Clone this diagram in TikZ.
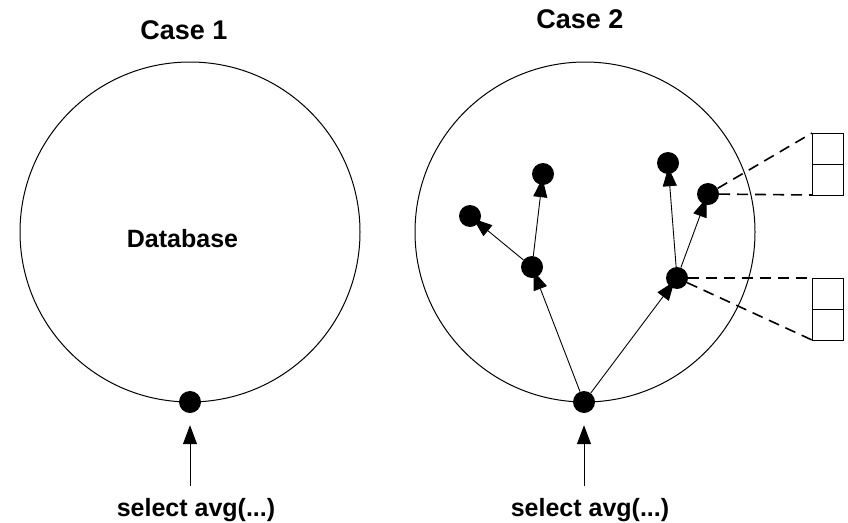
\documentclass[tikz,border=0pt]{standalone}
\usepackage{fontspec}
\setmainfont{Liberation Sans}
\usetikzlibrary{arrows.meta}
\begin{document}
\begin{tikzpicture}[x=1pt,y=-1pt,
  every node/.style={font=\fontsize{25}{29}\selectfont\bfseries},
  title/.style={font=\fontsize{27}{31}\selectfont\bfseries},
  big/.style={circle,draw,line width=1pt,minimum size=340pt,inner sep=0pt},
  dot/.style={circle,fill=black,minimum size=22pt,inner sep=0pt},
  arr/.style={line width=0.9pt,-{Triangle[length=19pt,width=14pt]}},
  inarr/.style={arr,shorten >=-7pt},
  uparr/.style={arr,shorten >=12pt},
  dsh/.style={line width=1.6pt,dash pattern=on 11pt off 7pt},
  cell/.style={draw,line width=1pt}]
\useasboundingbox (0,0) rectangle (848,522);
% Case 1
\node[title] (t1) at (184,30.5) {Case 1};
\node[big] (c1) at (190,232) {};
\node (db) at (182.5,238.5) {Database};
\node[dot] (r1) at (190,402) {};
\coordinate (q1) at (190,486);
\node[anchor=base] (s1) at (196,516) {select avg(...)};
\draw[uparr] (q1) -- (r1);
% Case 2
\node[title] (t2) at (580,19.5) {Case 2};
\node[big] (c2) at (585,232) {};
\node[dot] (r2) at (584,402) {};
\coordinate (q2) at (584,486);
\node[anchor=base] (s2) at (590,516) {select avg(...)};
\draw[uparr] (q2) -- (r2);
\node[dot] (a) at (532,267) {};
\node[dot] (b) at (677,278) {};
\node[dot] (a1) at (470,216) {};
\node[dot] (a2) at (543,174) {};
\node[dot] (b1) at (668,163) {};
\node[dot] (b2) at (708,194) {};
\draw[inarr] (r2) -- (a);
\draw[inarr] (r2) -- (b);
\draw[inarr] (a) -- (a1);
\draw[inarr] (a) -- (a2);
\draw[inarr] (b) -- (b1);
\draw[inarr] (b) -- (b2);
% boxes
\coordinate (u1) at (812,133);
\coordinate (u2) at (812,195);
\coordinate (v1) at (812,278);
\coordinate (v2) at (812,340);
\draw[cell] (u1) rectangle (843,164);
\draw[cell] (812,164) rectangle (843,195);
\draw[cell] (v1) rectangle (843,309);
\draw[cell] (812,309) rectangle (843,340);
\draw[dsh] (b2) -- (u1);
\draw[dsh] (b2) -- (u2);
\draw[dsh] (b) -- (v1);
\draw[dsh] (b) -- (v2);
\end{tikzpicture}
\end{document}
